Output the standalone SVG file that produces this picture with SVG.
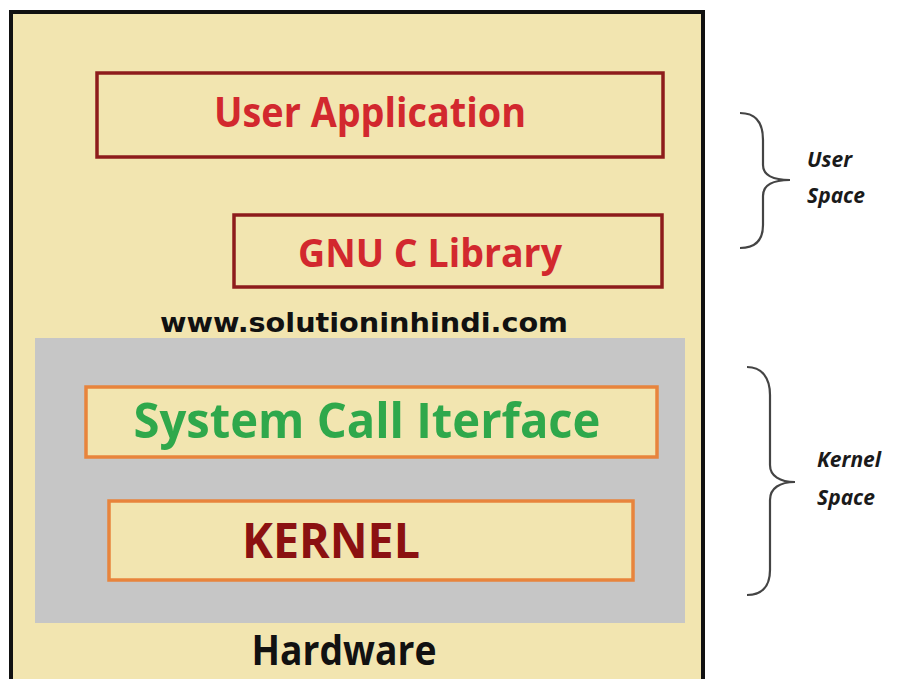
<svg xmlns="http://www.w3.org/2000/svg" width="902" height="679" viewBox="0 0 902 679">
<style>
.lbl{font-family:"Open Sans","Liberation Sans",sans-serif;font-weight:bold;}
.red{fill:#D2282E;}
.box{fill:#F2E5B0;}
.ubox{stroke:#8E1C1C;stroke-width:3.5;}
.kbox{stroke:#E8843C;stroke-width:3.5;}
.brace{fill:none;stroke:#444;stroke-width:2.2;}
.side{font-family:"Open Sans","Liberation Sans",sans-serif;font-weight:bold;font-style:italic;font-size:21px;fill:#1a1a1a;}
</style>
<rect x="0" y="0" width="902" height="679" fill="#ffffff"/>
<g id="outer">
<rect x="11" y="12" width="692" height="690" class="box" stroke="#111" stroke-width="4"/>
</g>
<g id="user-application">
<rect x="97" y="73" width="566" height="84" class="box ubox"/>
<text x="370" y="127" text-anchor="middle" class="lbl red" font-size="41" textLength="312" lengthAdjust="spacingAndGlyphs">User Application</text>
</g>
<g id="gnu-c-library">
<rect x="234" y="215" width="428" height="72" class="box ubox"/>
<text x="430" y="267" text-anchor="middle" class="lbl red" font-size="40" textLength="264" lengthAdjust="spacingAndGlyphs">GNU C Library</text>
</g>
<g id="watermark">
<text x="364" y="332" text-anchor="middle" font-family="'DejaVu Sans','Liberation Sans',sans-serif" font-weight="bold" font-size="26" fill="#111" textLength="408" lengthAdjust="spacingAndGlyphs">www.solutioninhindi.com</text>
</g>
<g id="kernel-space-area">
<rect x="35" y="338" width="650" height="285" fill="#C6C6C6"/>
</g>
<g id="system-call-interface">
<rect x="86" y="387" width="571" height="70" class="box kbox"/>
<text x="367" y="438" text-anchor="middle" class="lbl" fill="#2FA84B" font-size="49" textLength="467" lengthAdjust="spacingAndGlyphs">System Call Iterface</text>
</g>
<g id="kernel">
<rect x="109" y="501" width="524" height="79" class="box kbox"/>
<text x="331" y="558" text-anchor="middle" class="lbl" fill="#8B1111" font-size="48" textLength="178" lengthAdjust="spacingAndGlyphs">KERNEL</text>
</g>
<g id="hardware">
<text x="344" y="665" text-anchor="middle" class="lbl" fill="#111" font-size="41" textLength="185" lengthAdjust="spacingAndGlyphs">Hardware</text>
</g>
<g id="connectors">
<path class="brace" d="M740,113 C755,113 763,122 763,140 L763,165 C763,175 772,180 790,180 C772,180 763,186 763,196 L763,225 C763,240 755,248 740,248"/>
<path class="brace" d="M747,367 C762,367 770,378 770,395 L770,465 C770,476 780,482 795,482 C780,482 770,488 770,500 L770,570 C770,586 762,595 747,595"/>
</g>
<g id="user-space-label">
<text x="807" y="167" class="side">User</text>
<text x="807" y="203" class="side">Space</text>
</g>
<g id="kernel-space-label">
<text x="817" y="467" class="side">Kernel</text>
<text x="817" y="505" class="side">Space</text>
</g>
</svg>
